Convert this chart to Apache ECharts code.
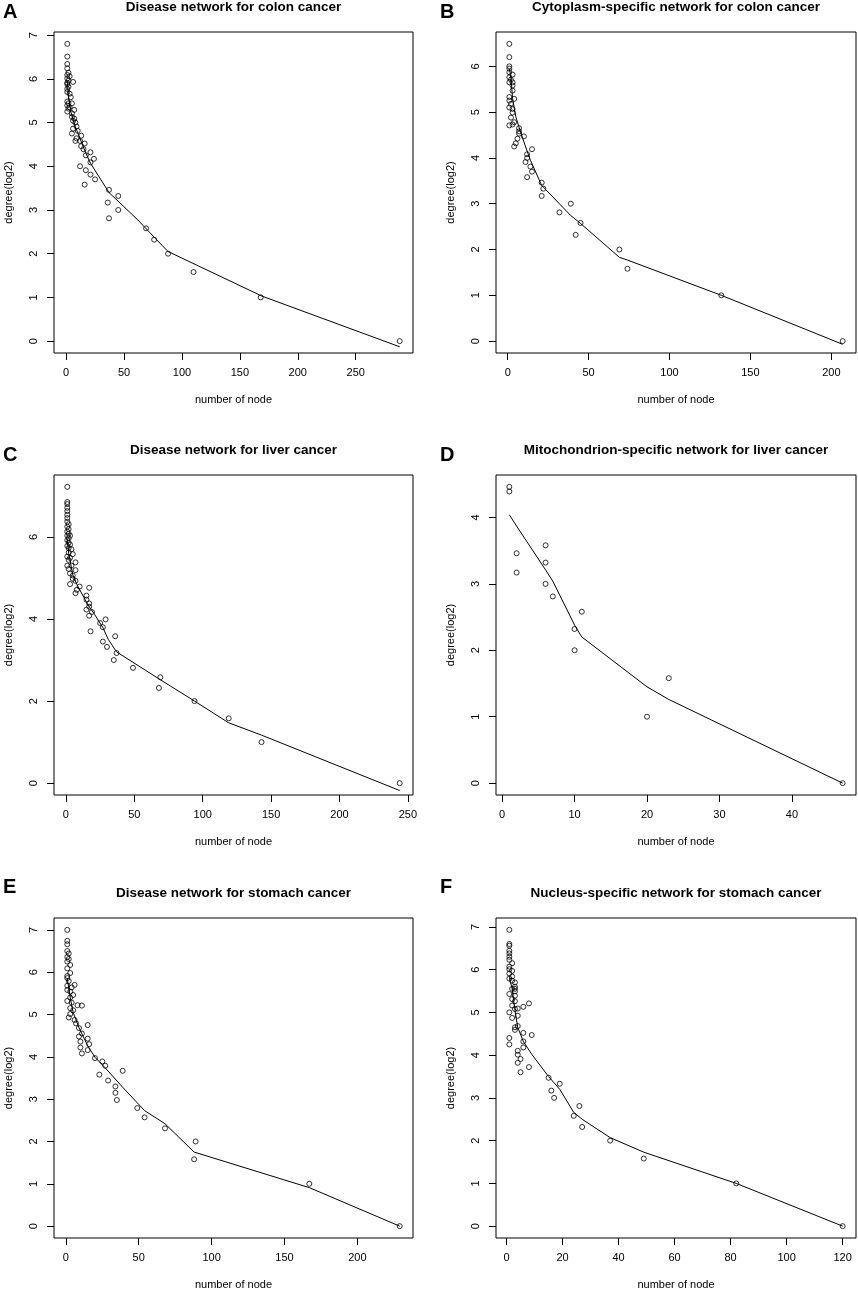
<!DOCTYPE html>
<html>
<head>
<meta charset="utf-8">
<script src="https://cdn.jsdelivr.net/npm/echarts@6.0.0/dist/echarts.min.js"></script>
<style>
  html, body { margin: 0; padding: 0; background: #fff; }
  #chart { width: 858px; height: 1291px; }
</style>
</head>
<body>
<div id="chart"></div>
<script>
// A: disease network, colon cancer
const colonNodes  = [1, 1, 1, 1, 2, 3, 1, 1, 2, 6, 1, 1, 2, 1, 1, 3, 4, 1, 2, 5, 1, 3, 2, 1, 7, 5, 5, 7, 6, 8, 9, 6, 10, 5, 13, 9, 8, 12, 16, 13, 15, 17, 21, 24, 21, 12, 17, 21, 25, 16, 37, 45, 36, 45, 37, 69, 76, 88, 110, 168, 288];
const colonDegree = [6.80, 6.51, 6.34, 6.24, 6.14, 6.06, 6.01, 6.09, 5.96, 5.93, 5.88, 5.91, 5.82, 5.77, 5.70, 5.66, 5.58, 5.48, 5.44, 5.44, 5.39, 5.35, 5.32, 5.25, 5.29, 5.21, 5.13, 5.09, 5.04, 5.00, 4.91, 4.86, 4.81, 4.75, 4.70, 4.64, 4.58, 4.58, 4.52, 4.46, 4.39, 4.25, 4.32, 4.17, 4.09, 4.00, 3.91, 3.81, 3.70, 3.58, 3.46, 3.32, 3.17, 3.00, 2.81, 2.58, 2.32, 2.00, 1.58, 1.00, 0];
const colonFitNodes  = [1, 2, 4, 8, 17, 21, 37, 62, 77, 88, 169, 288];
const colonFitDegree = [5.95, 5.6, 5.25, 4.9, 4.3, 4.07, 3.4, 2.77, 2.35, 2.05, 1.03, -0.13];
const colonXTicks = [0, 50, 100, 150, 200, 250];
const colonYTicks = [0, 1, 2, 3, 4, 5, 6, 7];

// B: cytoplasm-specific network, colon cancer
const cytoNodes  = [1, 1, 1, 1, 1, 3, 1, 2, 3, 1, 3, 3, 1, 4, 1, 2, 1, 3, 3, 2, 4, 1, 3, 7, 7, 7, 10, 6, 5, 4, 15, 12, 12, 11, 14, 15, 12, 21, 22, 21, 39, 32, 45, 42, 69, 74, 132, 207];
const cytoDegree = [6.49, 6.20, 6.00, 5.95, 5.87, 5.82, 5.76, 5.71, 5.65, 5.65, 5.58, 5.47, 5.33, 5.29, 5.25, 5.18, 5.10, 5.07, 4.99, 4.88, 4.78, 4.71, 4.73, 4.65, 4.58, 4.53, 4.47, 4.42, 4.32, 4.25, 4.19, 4.08, 4.00, 3.91, 3.81, 3.70, 3.58, 3.46, 3.33, 3.17, 3.00, 2.81, 2.58, 2.32, 2.00, 1.58, 1.00, 0];
const cytoFitNodes  = [1, 2, 3, 5, 7, 10, 14, 21, 39, 45, 69, 74, 132, 207];
const cytoFitDegree = [5.95, 5.75, 5.3, 4.9, 4.67, 4.35, 3.95, 3.4, 2.74, 2.57, 1.83, 1.77, 1.0, -0.07];
const cytoXTicks = [0, 50, 100, 150, 200];
const cytoYTicks = [0, 1, 2, 3, 4, 5, 6];

// C: disease network, liver cancer
const liverNodes  = [1, 1, 1, 1, 1, 1, 1, 1, 2, 1, 2, 1, 2, 1, 3, 2, 1, 2, 3, 1, 2, 4, 2, 5, 1, 3, 2, 7, 1, 4, 2, 7, 3, 5, 5, 7, 3, 10, 17, 8, 7, 15, 15, 17, 17, 15, 19, 17, 29, 25, 27, 18, 36, 27, 30, 37, 35, 49, 69, 68, 94, 119, 143, 244];
const liverDegree = [7.22, 6.85, 6.80, 6.71, 6.63, 6.54, 6.46, 6.37, 6.31, 6.25, 6.19, 6.13, 6.08, 6.03, 6.03, 5.97, 5.92, 5.86, 5.81, 5.78, 5.73, 5.70, 5.62, 5.58, 5.52, 5.49, 5.44, 5.38, 5.30, 5.30, 5.22, 5.19, 5.11, 5.06, 4.98, 4.93, 4.85, 4.79, 4.76, 4.71, 4.63, 4.57, 4.47, 4.38, 4.30, 4.23, 4.17, 4.08, 3.99, 3.90, 3.80, 3.70, 3.58, 3.45, 3.32, 3.17, 3.00, 2.81, 2.58, 2.32, 2.00, 1.58, 1.00, 0];
const liverFitNodes  = [1, 2, 5, 8, 16, 21, 27, 31, 37, 69, 94, 119, 143, 244];
const liverFitDegree = [5.95, 5.6, 5.08, 4.84, 4.35, 4.11, 3.79, 3.5, 3.2, 2.52, 2.0, 1.47, 1.17, -0.18];
const liverXTicks = [0, 50, 100, 150, 200, 250];
const liverYTicks = [0, 2, 4, 6];

// D: mitochondrion-specific network, liver cancer
const mitoNodes  = [1, 1, 2, 2, 6, 6, 6, 7, 10, 10, 11, 20, 23, 47];
const mitoDegree = [4.46, 4.39, 3.46, 3.17, 3.58, 3.32, 3.00, 2.81, 2.32, 2.00, 2.58, 1.00, 1.58, 0];
const mitoFitNodes  = [1, 2, 6, 7, 10, 11, 20, 23, 47];
const mitoFitDegree = [4.04, 3.87, 3.21, 3.04, 2.38, 2.2, 1.45, 1.26, 0.0];
const mitoXTicks = [0, 10, 20, 30, 40];
const mitoYTicks = [0, 1, 2, 3, 4];

// E: disease network, stomach cancer
const stomachNodes  = [1, 1, 1, 1, 2, 1, 2, 1, 3, 1, 3, 1, 1, 2, 6, 1, 4, 1, 3, 5, 3, 1, 4, 8, 11, 3, 5, 3, 2, 6, 7, 15, 9, 11, 9, 15, 10, 16, 10, 15, 11, 20, 25, 27, 39, 23, 29, 34, 34, 35, 49, 54, 68, 89, 88, 167, 229];
const stomachDegree = [7.00, 6.74, 6.66, 6.50, 6.44, 6.36, 6.31, 6.25, 6.17, 6.09, 5.98, 5.91, 5.86, 5.79, 5.70, 5.68, 5.64, 5.58, 5.54, 5.46, 5.40, 5.32, 5.28, 5.22, 5.21, 5.15, 5.10, 5.01, 4.93, 4.87, 4.79, 4.75, 4.68, 4.55, 4.48, 4.43, 4.36, 4.30, 4.22, 4.16, 4.08, 3.97, 3.89, 3.79, 3.67, 3.58, 3.44, 3.30, 3.15, 2.98, 2.79, 2.57, 2.31, 2.00, 1.58, 1.00, 0];
const stomachFitNodes  = [1, 3, 5, 9, 15, 20, 27, 39, 54, 68, 88, 167, 229];
const stomachFitDegree = [5.85, 5.4, 5.05, 4.69, 4.26, 3.99, 3.74, 3.28, 2.73, 2.42, 1.75, 0.91, 0];
const stomachXTicks = [0, 50, 100, 150, 200];
const stomachYTicks = [0, 1, 2, 3, 4, 5, 6, 7];

// F: nucleus-specific network, stomach cancer
const nucleusNodes  = [1, 1, 1, 1, 1, 1, 1, 2, 1, 1, 2, 1, 2, 1, 2, 3, 3, 3, 2, 3, 1, 3, 2, 3, 8, 2, 4, 6, 3, 1, 4, 2, 3, 4, 3, 6, 9, 1, 6, 1, 6, 4, 4, 5, 4, 8, 5, 15, 19, 16, 17, 26, 24, 27, 37, 49, 82, 120];
const nucleusDegree = [6.93, 6.60, 6.56, 6.44, 6.38, 6.30, 6.23, 6.15, 6.07, 6.01, 5.97, 5.91, 5.84, 5.79, 5.74, 5.70, 5.60, 5.55, 5.55, 5.49, 5.43, 5.39, 5.31, 5.26, 5.21, 5.16, 5.09, 5.13, 5.08, 5.00, 4.92, 4.87, 4.65, 4.68, 4.59, 4.52, 4.47, 4.40, 4.32, 4.25, 4.18, 4.10, 4.01, 3.91, 3.82, 3.72, 3.60, 3.47, 3.33, 3.17, 3.00, 2.81, 2.58, 2.32, 2.00, 1.58, 1.00, 0];
const nucleusFitNodes  = [1, 2, 3, 4, 6, 9, 15, 19, 24, 27, 37, 49, 82, 120];
const nucleusFitDegree = [5.82, 5.55, 5.05, 4.65, 4.32, 4.02, 3.5, 3.2, 2.66, 2.5, 2.07, 1.73, 1.0, 0];
const nucleusXTicks = [0, 20, 40, 60, 80, 100, 120];
const nucleusYTicks = [0, 1, 2, 3, 4, 5, 6, 7];

const FONT = '"Liberation Sans", Arial, sans-serif';

// plot boxes (R plot regions), in pixels
const cols = [{left: 54, width: 359}, {left: 496, width: 360}];
const rows = [{top: 32, height: 321}, {top: 475, height: 320}, {top: 918, height: 320}];

const panels = [
    {letter: 'A', title: 'Disease network for colon cancer', col: 0, row: 0, letterY: 12,
     x: colonNodes, y: colonDegree, fx: colonFitNodes, fy: colonFitDegree, xt: colonXTicks, yt: colonYTicks},
    {letter: 'B', title: 'Cytoplasm-specific network for colon cancer', col: 1, row: 0, letterY: 12,
     x: cytoNodes, y: cytoDegree, fx: cytoFitNodes, fy: cytoFitDegree, xt: cytoXTicks, yt: cytoYTicks},
    {letter: 'C', title: 'Disease network for liver cancer', col: 0, row: 1, letterY: 455,
     x: liverNodes, y: liverDegree, fx: liverFitNodes, fy: liverFitDegree, xt: liverXTicks, yt: liverYTicks},
    {letter: 'D', title: 'Mitochondrion-specific network for liver cancer', col: 1, row: 1, letterY: 455,
     x: mitoNodes, y: mitoDegree, fx: mitoFitNodes, fy: mitoFitDegree, xt: mitoXTicks, yt: mitoYTicks},
    {letter: 'E', title: 'Disease network for stomach cancer', col: 0, row: 2, letterY: 887,
     x: stomachNodes, y: stomachDegree, fx: stomachFitNodes, fy: stomachFitDegree, xt: stomachXTicks, yt: stomachYTicks},
    {letter: 'F', title: 'Nucleus-specific network for stomach cancer', col: 1, row: 2, letterY: 887,
     x: nucleusNodes, y: nucleusDegree, fx: nucleusFitNodes, fy: nucleusFitDegree, xt: nucleusXTicks, yt: nucleusYTicks}
];

// R style axis limits: data range padded 4% each side
function padRange(arr) {
    let lo = Math.min(...arr), hi = Math.max(...arr);
    let d = (hi - lo) * 0.04;
    return [lo - d, hi + d];
}
function zip(a, b) {
    return a.map((v, i) => [v, b[i]]);
}

let grid = [], xAxis = [], yAxis = [], series = [], graphic = [];

panels.forEach((p, i) => {
    let c = cols[p.col], r = rows[p.row];
    grid.push({
        left: c.left, top: r.top, width: c.width, height: r.height,
        show: true, borderColor: '#000', borderWidth: 1, backgroundColor: 'transparent'
    });
    let xr = padRange(p.x), yr = padRange(p.y);
    xAxis.push({
        type: 'value', gridIndex: i, min: xr[0], max: xr[1], position: 'bottom',
        axisLine: {show: false, onZero: false},
        axisTick: {show: true, inside: false, length: 7, lineStyle: {color: '#000', width: 1}, customValues: p.xt},
        axisLabel: {customValues: p.xt, margin: 14, fontSize: 11, color: '#000', fontFamily: FONT},
        splitLine: {show: false},
        name: 'number of node', nameLocation: 'middle', nameGap: 41,
        nameTextStyle: {fontSize: 11, color: '#000', fontFamily: FONT}
    });
    yAxis.push({
        type: 'value', gridIndex: i, min: yr[0], max: yr[1], position: 'left',
        axisLine: {show: false, onZero: false},
        axisTick: {show: true, inside: false, length: 7, lineStyle: {color: '#000', width: 1}, customValues: p.yt},
        axisLabel: {customValues: p.yt, margin: 15, rotate: 90, fontSize: 11, color: '#000', fontFamily: FONT},
        splitLine: {show: false},
        name: 'degree(log2)', nameLocation: 'middle', nameGap: 40,
        nameTextStyle: {fontSize: 11, color: '#000', fontFamily: FONT}
    });
    series.push({
        type: 'scatter', xAxisIndex: i, yAxisIndex: i,
        data: zip(p.x, p.y),
        symbol: 'circle', symbolSize: 5,
        itemStyle: {color: 'rgba(0,0,0,0)', borderColor: '#000', borderWidth: 1},
        silent: true
    });
    series.push({
        type: 'line', xAxisIndex: i, yAxisIndex: i,
        data: zip(p.fx, p.fy),
        symbol: 'none', showSymbol: false,
        lineStyle: {color: '#000', width: 1},
        silent: true
    });
    graphic.push({
        type: 'text', x: c.left + c.width / 2, y: r.top - 25,
        style: {text: p.title, font: 'bold 13.5px ' + FONT, fill: '#000', align: 'center', verticalAlign: 'middle'}
    });
    graphic.push({
        type: 'text', x: p.col === 0 ? 3 : 440, y: p.letterY,
        style: {text: p.letter, font: 'bold 20px ' + FONT, fill: '#000', align: 'left', verticalAlign: 'middle'}
    });
});

let myChart = echarts.init(document.getElementById('chart'), null, {renderer: 'canvas'});
let option = {
    animation: false,
    backgroundColor: '#fff',
    grid: grid,
    xAxis: xAxis,
    yAxis: yAxis,
    series: series,
    graphic: graphic
};
myChart.setOption(option, true);
</script>
</body>
</html>
